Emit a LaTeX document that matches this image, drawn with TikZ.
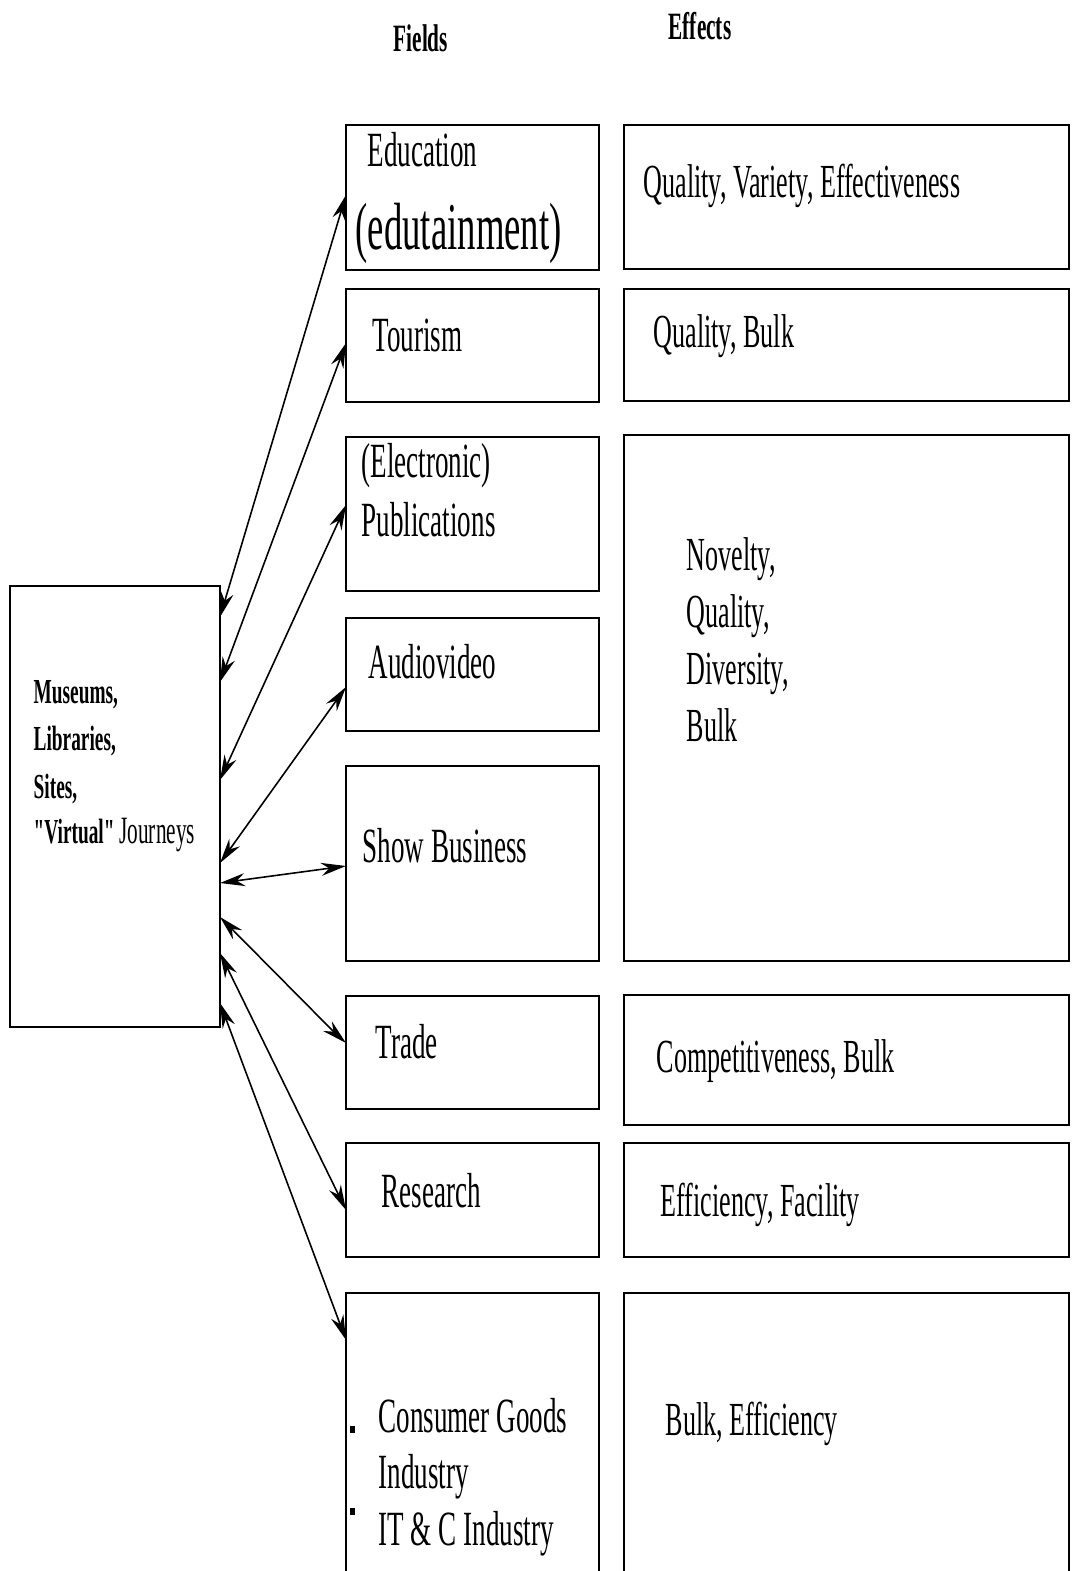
\documentclass[tikz,border=0pt]{standalone}
\usepackage{fontspec}
\setmainfont{Liberation Serif}[FakeStretch=0.55, Ligatures=TeXOff]
\usepackage{tikz}
\usetikzlibrary{arrows.meta}

\begin{document}
\begin{tikzpicture}[
    >={Stealth[length=2.5mm, width=1.3mm]},
    box/.style={draw, line width=0.6pt, anchor=north west, inner sep=0pt, outer sep=0pt},
    fieldbox/.style={box, minimum width=2.53cm},
    effectbox/.style={box, minimum width=4.45cm},
    txt/.style={anchor=base west, inner sep=0pt},
    fieldtxt/.style={txt, font=\fontsize{14}{16.8}\selectfont},
    effecttxt/.style={txt, font=\fontsize{13.5}{16.2}\selectfont},
    headtxt/.style={txt, font=\fontsize{11}{13}\selectfont\bfseries},
    sourcetxt/.style={txt, font=\fontsize{10}{13.4}\selectfont\bfseries},
    link/.style={<->, line width=0.45pt},
    bullet/.style={fill, inner sep=0pt, minimum width=0.05cm, minimum height=0.07cm},
]

\path[use as bounding box, clip] (0,0) rectangle (10.72,-15.71);

% ── Column heads ──
\node[headtxt] (fieldshead) at (3.93,-0.52) {Fields};
\node[headtxt] (effectshead) at (6.68,-0.40) {Effects};

% ── Source box ──
\node[box, minimum width=2.10cm, minimum height=4.41cm] (museums) at (0.10,-5.86) {};
\node[sourcetxt] (museumsA) at ([xshift=0.23cm, yshift=-1.17cm]museums.north west) {Museums,};
\node[sourcetxt] (museumsB) at ([xshift=0.23cm, yshift=-1.64cm]museums.north west) {Libraries,};
\node[sourcetxt] (museumsC) at ([xshift=0.23cm, yshift=-2.12cm]museums.north west) {Sites,};
\node[sourcetxt] (museumsD) at ([xshift=0.23cm, yshift=-2.57cm]museums.north west)
    {"Virtual" {\mdseries\fontsize{11}{13.4}\selectfont Journeys}};

% ── Fields ──
\node[fieldbox, minimum height=1.45cm] (edu) at (3.46,-1.25) {};
\node[fieldtxt] (edutxt) at ([xshift=0.21cm, yshift=-0.42cm]edu.north west) {Education};
\node[txt, font=\fontsize{19}{22}\selectfont] (edutain) at ([xshift=0.09cm, yshift=-1.25cm]edu.north west) {(edutainment)};

\node[fieldbox, minimum height=1.13cm] (tour) at (3.46,-2.89) {};
\node[fieldtxt] (tourtxt) at ([xshift=0.26cm, yshift=-0.63cm]tour.north west) {Tourism};

\node[fieldbox, minimum height=1.54cm] (pub) at (3.46,-4.37) {};
\node[fieldtxt] (pubtxtA) at ([xshift=0.15cm, yshift=-0.41cm]pub.north west) {(Electronic)};
\node[fieldtxt] (pubtxtB) at ([xshift=0.15cm, yshift=-1.00cm]pub.north west) {Publications};

\node[fieldbox, minimum height=1.13cm] (av) at (3.46,-6.18) {};
\node[fieldtxt] (avtxt) at ([xshift=0.22cm, yshift=-0.60cm]av.north west) {Audiovideo};

\node[fieldbox, minimum height=1.95cm] (show) at (3.46,-7.66) {};
\node[fieldtxt] (showtxt) at ([xshift=0.16cm, yshift=-0.96cm]show.north west) {Show Business};

\node[fieldbox, minimum height=1.13cm] (trade) at (3.46,-9.96) {};
\node[fieldtxt] (tradetxt) at ([xshift=0.29cm, yshift=-0.62cm]trade.north west) {Trade};

\node[fieldbox, minimum height=1.14cm] (research) at (3.46,-11.43) {};
\node[fieldtxt] (researchtxt) at ([xshift=0.35cm, yshift=-0.64cm]research.north west) {Research};

\node[fieldbox, minimum height=2.90cm] (consumer) at (3.46,-12.93) {};
\node[fieldtxt] (consumerA) at ([xshift=0.32cm, yshift=-1.39cm]consumer.north west) {Consumer Goods};
\node[fieldtxt] (consumerB) at ([xshift=0.32cm, yshift=-1.95cm]consumer.north west) {Industry};
\node[fieldtxt] (consumerC) at ([xshift=0.32cm, yshift=-2.52cm]consumer.north west) {IT \& C Industry};
\node[bullet] (bulletA) at (3.52,-14.29) {};
\node[bullet] (bulletB) at (3.52,-15.11) {};

% ── Effects ──
\node[effectbox, minimum height=1.44cm] (effedu) at (6.24,-1.25) {};
\node[effecttxt] (effedutxt) at ([xshift=0.19cm, yshift=-0.73cm]effedu.north west) {Quality, Variety, Effectiveness};

\node[effectbox, minimum height=1.12cm] (efftour) at (6.24,-2.89) {};
\node[effecttxt] (efftourtxt) at ([xshift=0.29cm, yshift=-0.59cm]efftour.north west) {Quality, Bulk};

\node[effectbox, minimum height=5.26cm] (effmedia) at (6.24,-4.35) {};
\node[effecttxt] (effmediaA) at ([xshift=0.62cm, yshift=-1.35cm]effmedia.north west) {Novelty,};
\node[effecttxt] (effmediaB) at ([xshift=0.62cm, yshift=-1.92cm]effmedia.north west) {Quality,};
\node[effecttxt] (effmediaC) at ([xshift=0.62cm, yshift=-2.49cm]effmedia.north west) {Diversity,};
\node[effecttxt] (effmediaD) at ([xshift=0.62cm, yshift=-3.06cm]effmedia.north west) {Bulk};

\node[effectbox, minimum height=1.30cm] (efftrade) at (6.24,-9.95) {};
\node[effecttxt] (efftradetxt) at ([xshift=0.32cm, yshift=-0.77cm]efftrade.north west) {Competitiveness, Bulk};

\node[effectbox, minimum height=1.14cm] (effresearch) at (6.24,-11.43) {};
\node[effecttxt] (effresearchtxt) at ([xshift=0.36cm, yshift=-0.73cm]effresearch.north west) {Efficiency, Facility};

\node[effectbox, minimum height=2.90cm] (effconsumer) at (6.24,-12.93) {};
\node[effecttxt] (effconsumertxt) at ([xshift=0.41cm, yshift=-1.42cm]effconsumer.north west) {Bulk, Efficiency};

% ── Links ──
\draw[link] ([yshift=-0.31cm]museums.north east) -- ([yshift=-0.70cm]edu.north west);
\draw[link] ([yshift=-0.96cm]museums.north east) -- ([yshift=-0.54cm]tour.north west);
\draw[link] ([yshift=-1.94cm]museums.north east) -- ([yshift=-0.68cm]pub.north west);
\draw[link] ([yshift=-2.77cm]museums.north east) -- ([yshift=-0.69cm]av.north west);
\draw[link] ([yshift=-2.97cm]museums.north east) -- ([yshift=-1.00cm]show.north west);
\draw[link] ([yshift=-3.31cm]museums.north east) -- ([yshift=-0.47cm]trade.north west);
\draw[link] ([yshift=-3.67cm]museums.north east) -- ([yshift=-0.67cm]research.north west);
\draw[link] ([yshift=-4.17cm]museums.north east) -- ([yshift=-0.47cm]consumer.north west);

\end{tikzpicture}
\end{document}
